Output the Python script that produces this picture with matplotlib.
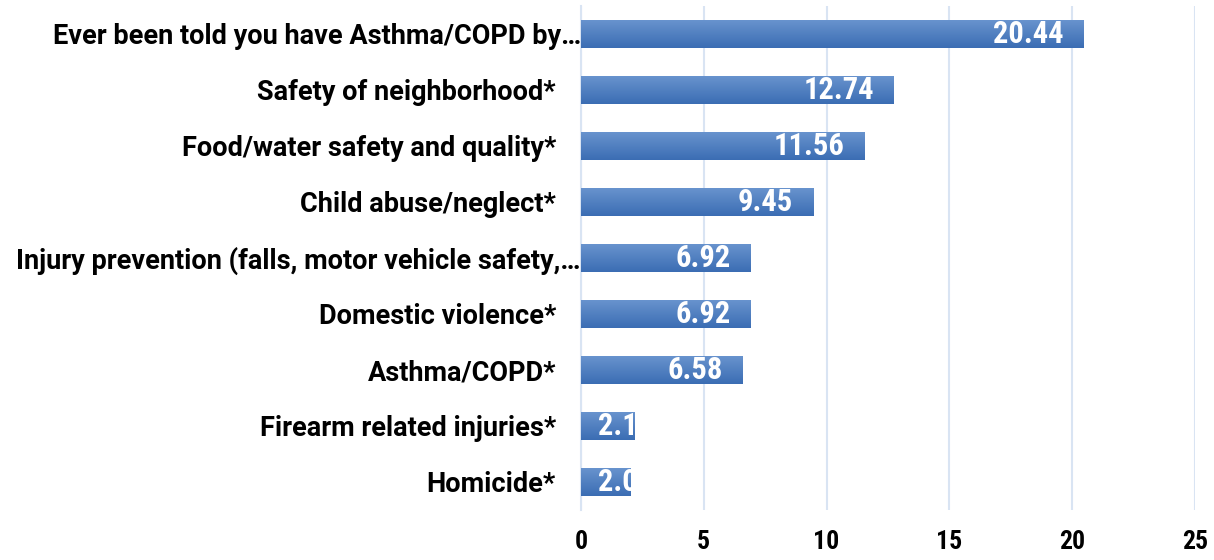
import matplotlib
matplotlib.use('Agg')
import matplotlib.pyplot as plt
import numpy as np
from matplotlib import font_manager
from matplotlib.transforms import offset_copy

# Données
categories = [
    "Ever been told you have Asthma/COPD by…",
    "Safety of neighborhood*",
    "Food/water safety and quality*",
    "Child abuse/neglect*",
    "Injury prevention (falls, motor vehicle safety,…",
    "Domestic violence*",
    "Asthma/COPD*",
    "Firearm related injuries*",
    "Homicide*",
]
values = [20.44, 12.74, 11.56, 9.45, 6.92, 6.92, 6.58, 2.19, 2.03]
xticks = [0, 5, 10, 15, 20, 25]

names = {f.name for f in font_manager.fontManager.ttflist}
cond = 'Roboto Condensed' if 'Roboto Condensed' in names else 'Roboto'
plt.rcParams['font.family'] = ['Roboto', 'DejaVu Sans']
plt.rcParams['font.weight'] = 'bold'

fig = plt.figure(figsize=(12.14, 5.6), dpi=100)
ax = fig.add_axes([581 / 1214, 1 - 510 / 560, (1195 - 581) / 1214, (510 - 6) / 560])

y = np.arange(len(categories))
bars = ax.barh(y, values, height=0.5, color='#4a7cc0', zorder=2)

# dégradé dans chaque barre
grad = np.linspace(0, 1, 64).reshape(-1, 1)
cmap = matplotlib.colors.LinearSegmentedColormap.from_list('g', ['#6893ce', '#3b6db3'])
for b in bars:
    x0, y0 = b.get_x(), b.get_y()
    im = ax.imshow(grad, extent=[x0, x0 + b.get_width(), y0 + b.get_height(), y0],
                   cmap=cmap, aspect='auto', zorder=3, origin='upper')
    im.set_clip_path(b)

for b, v in zip(bars, values):
    cy = b.get_y() + b.get_height() / 2
    if v < 3:
        tr = offset_copy(ax.transData, fig=fig, x=17, y=0, units='dots')
        t = ax.text(0, cy, f"{v:.2f}", transform=tr, ha='left', va='center',
                    color='white', fontsize=22, fontweight='bold', family=cond, zorder=4)
    else:
        tr = offset_copy(ax.transData, fig=fig, x=-20, y=0, units='dots')
        t = ax.text(v, cy, f"{v:.2f}", transform=tr, ha='right', va='center',
                    color='white', fontsize=22, fontweight='bold', family=cond, zorder=4)
    t.set_clip_path(b)

ax.set_xlim(0, 25)
ax.set_ylim(len(categories) - 0.5, -0.5)
ax.set_xticks(xticks)
ax.set_xticklabels([str(t) for t in xticks], fontsize=18.5, fontweight='bold', family=cond)
ax.set_yticks(y)
ax.set_yticklabels(categories, fontsize=19.5, fontweight='bold')
for tick, lab in zip(ax.yaxis.get_major_ticks(), categories):
    tick.set_pad(0 if lab.endswith('…') else 18)

ax.tick_params(axis='both', length=0)
ax.tick_params(axis='x', pad=14.4)
ax.grid(axis='x', color='#d9e4f3', linewidth=1.5, zorder=0)
for s in ['top', 'right', 'bottom']:
    ax.spines[s].set_visible(False)
ax.spines['left'].set_color('#d9e4f3')
ax.spines['left'].set_linewidth(1.5)

fig.savefig('out.png', dpi=100)
